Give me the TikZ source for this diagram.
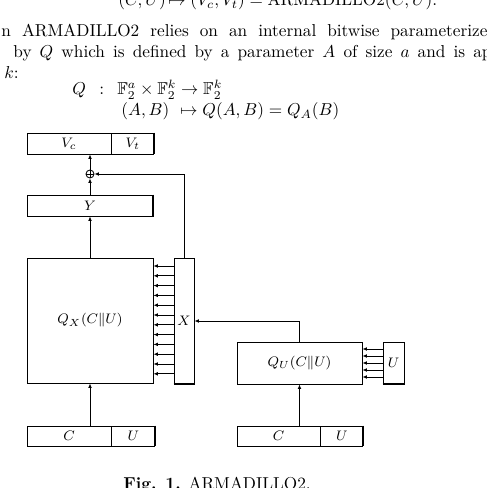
\documentclass[tikz,border=0pt]{standalone}
\usepackage{amsmath,amssymb}
\usetikzlibrary{positioning,arrows.meta}
\newcommand{\pxunit}{0.58pt}

\begin{document}
\begin{tikzpicture}[x=0.58pt,y=-0.58pt,line width=0.5pt,
  reg/.style 2 args={draw, inner sep=0pt, font=\footnotesize,
    minimum width={#1*\pxunit}, minimum height={#2*\pxunit}},
  rim/.style={line width=1.1pt},
  arr/.style={-{Latex[length=2.6pt,width=2.2pt]}},
  txt/.style={anchor=base west, inner sep=0pt}]
  \useasboundingbox (0,0) rectangle (486,488);
  \clip (0,0) rectangle (486,488);

  % running text above the figure
  \node[txt] (l1a) at (118,6) {$(C,U)$};
  \node[txt] (l1b) at (168,6) {$\mapsto (V_c,V_t)=\mathrm{ARMADILLO2}(C,U)$.};
  \node[txt] (l2) at (1,37) {\makebox[281.9pt][s]{n ARMADILLO2 relies on an internal bitwise parameterize}};
  \node[txt] (l3) at (13,58) {\makebox[277.3pt][s]{by $Q$ which is defined by a parameter $A$ of size $a$ and is ap}};
  \node[txt] (l4) at (4,79) {$k$:};
  \node[txt] (q1) at (72,95) {$Q$};
  \node[txt] (q2) at (99,95) {$:$};
  \node[txt] (q3) at (117,95) {$\mathbb{F}_2^a\times\mathbb{F}_2^k\to\mathbb{F}_2^k$};
  \node[txt] (q4) at (121,116) {$(A,B)$};
  \node[txt] (q5) at (180,116) {$\mapsto Q(A,B)=Q_A(B)$};

  % registers and boxes
  \node[reg={84}{21}] (Vc) at (69,143.5) {$V_c$};
  \node[reg={42}{21}, right=0pt of Vc] (Vt) {$V_t$};
  \node[circle, draw, inner sep=0pt, minimum size={8*\pxunit}] (xor) at (90,174) {};
  \node[reg={126}{21}] (Y) at (90,205.5) {$Y$};
  \node[reg={126}{125}] (Qx) at (90,320.5) {$Q_X(C\|U)$};
  \node[reg={20}{126}] (X) at (184,321) {$X$};
  \node[reg={125}{42}] (Qu) at (299.5,363) {$Q_U(C\|U)$};
  \node[reg={21}{42}] (Ub) at (393.5,363) {$U$};
  \node[reg={84}{20}] (C1) at (69,436) {$C$};
  \node[reg={43}{20}, right=0pt of C1] (U1) {$U$};
  \node[reg={83}{20}] (C2) at (278.5,436) {$C$};
  \node[reg={42}{20}, right=0pt of C2] (U2) {$U$};

  % xor cross
  \draw (xor.north) -- (xor.south) (xor.west) -- (xor.east);

  % thick edges
  \draw[rim] (Vt.north east) -- (Vt.south east);
  \draw[rim] (Y.north east) -- (Y.south east);
  \draw[rim] (U1.north east) -- (U1.south east);
  \draw[rim] (U2.north east) -- (U2.south east);
  \draw[rim] (X.south west) -- (X.south east);
  \draw[rim] (Ub.south west) -- (Ub.south east);

  % data flow
  \draw[arr] (Qx.south |- C1.north) -- (Qx.south);
  \draw[arr] (Qu.south |- C2.north) -- (Qu.south);
  \draw[arr] (Qx) -- (Y);
  \draw[arr] (Y) -- (xor);
  \draw[arr] (xor) -- (xor |- Vc.south);
  \draw[arr] (X.north) -- (X.north |- xor) -- (xor);
  \draw[arr] (Qu.north) |- (X.east);
  \foreach \k in {0,...,11}
    \draw[arr] (X.west |- 0,{266+9.8*\k}) -- (Qx.east |- 0,{266+9.8*\k});
  \foreach \k in {0,...,4}
    \draw[arr] (Ub.west |- 0,{349+7*\k}) -- (Qu.east |- 0,{349+7*\k});

  % caption
  \node[anchor=base, inner sep=0pt] (cap) at (217,489) {\textbf{Fig. 1.} ARMADILLO2.};
\end{tikzpicture}
\end{document}
